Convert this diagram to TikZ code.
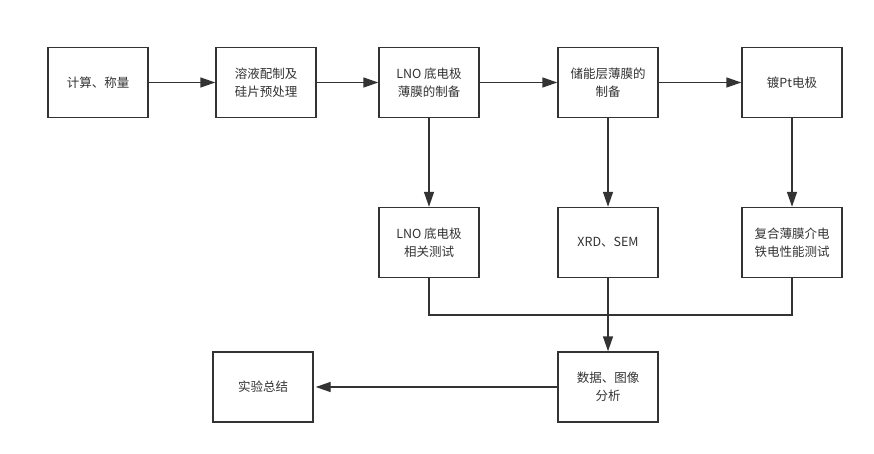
\documentclass[tikz,border=0pt]{standalone}
\usepackage{fontspec}
\setmainfont{Noto Sans CJK SC}
\usetikzlibrary{arrows.meta}
\definecolor{ink}{HTML}{333333}
\begin{document}
\begin{tikzpicture}[x=1pt,y=-1pt,
  box/.style={draw=ink,line width=1.4pt,minimum width=100pt,minimum height=70pt,inner sep=0pt,
    align=center,text=ink,font=\fontsize{12.5}{18}\selectfont},
  conn/.style={draw=ink,line width=1.4pt},
  arr/.style={conn,-{Triangle[length=15pt,width=10pt]}}]
\useasboundingbox[fill=white] (0,0) rectangle (874,454);
\node[box] (b1) at (98,82.5) {计算、称量};
\node[box] (b2) at (266,82.5) {溶液配制及\\硅片预处理};
\node[box] (b3) at (429,82.5) {LNO 底电极\\薄膜的制备};
\node[box] (b4) at (608,82.5) {储能层薄膜的\\制备};
\node[box] (b5) at (792,82.5) {镀Pt电极};
\node[box] (b6) at (429,242.5) {LNO 底电极\\相关测试};
\node[box] (b7) at (608,242.5) {XRD、SEM};
\node[box] (b8) at (792,242.5) {复合薄膜介电\\铁电性能测试};
\node[box] (b9) at (608,387) {数据、图像\\分析};
\node[box] (b10) at (263,387) {实验总结};
\coordinate (j) at (608,315);
\draw[arr] (b1) -- (b2);
\draw[arr] (b2) -- (b3);
\draw[arr] (b3) -- (b4);
\draw[arr] (b4) -- (b5);
\draw[arr] (b3) -- (b6);
\draw[arr] (b4) -- (b7);
\draw[arr] (b5) -- (b8);
\draw[conn] (b6.south) |- (j) -| (b8.south);
\draw[conn] (b7) -- (j);
\draw[arr] (j) -- (b9);
\draw[arr] (b9) -- ([xshift=2pt]b10.east);
\end{tikzpicture}
\end{document}
